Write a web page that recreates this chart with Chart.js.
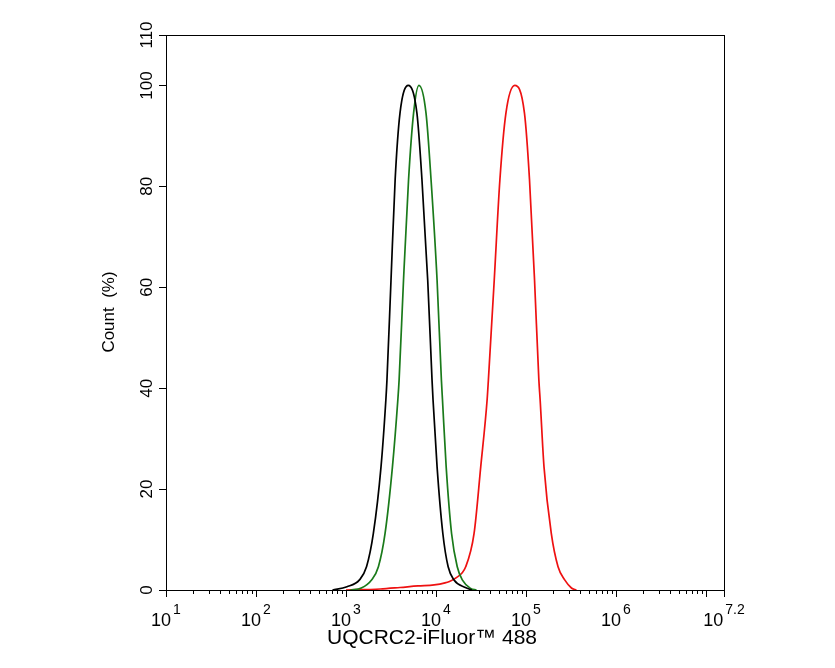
<!DOCTYPE html>
<html><head><script src="https://cdn.jsdelivr.net/npm/chart.js"></script>
<style>body{margin:0;background:#fff}#w{width:835px;height:668px}</style></head>
<body><div id="w"><canvas id="c"></canvas></div>
<script>
const blackX=[2.85,3.01,3.15,3.228,3.304,3.389,3.443,3.455,3.50,3.546,3.60,3.692,3.788,3.844,3.908,3.956,3.967,4.012,4.076,4.135,4.2,4.326,4.4];
const blackY=[0,0.65,2.0,4.6,11.2,24.4,37.7,41.6,61.4,81.3,94.5,100,94.5,81.3,61.4,41.6,37.7,24.4,11.2,4.6,2.0,0.5,0];
const greenX=[3.05,3.17,3.284,3.36,3.434,3.516,3.576,3.59,3.639,3.695,3.751,3.81,3.889,3.945,4.012,4.06,4.072,4.113,4.173,4.236,4.292,4.385,4.45];
const greenY=[0,0.4,2.0,4.6,11.2,24.4,37.7,41.6,61.4,81.3,94.5,100,94.5,81.3,61.4,41.6,37.7,24.4,11.2,4.6,2.0,0.3,0];
const redX=[3.0,3.38,3.6,3.8,3.98,4.1,4.15,4.214,4.33,4.423,4.497,4.568,4.582,4.647,4.71,4.777,4.875,4.983,5.039,5.095,5.143,5.157,5.2,5.281,5.356,5.43,5.505,5.56];
const redY=[0,0.2,0.5,0.8,1.0,1.4,1.7,2.3,4.6,11.2,24.4,37.7,41.6,61.4,81.3,94.5,100,94.5,81.3,61.4,41.6,37.7,24.4,11.2,4.6,2.0,0.4,0];
const xTickExp=['1','2','3','4','5','6','7.2'];
const xTickPos=[1,2,3,4,5,6,7.2];
const yTicks=[0,20,40,60,80,100,110];
const pts=(xs,ys)=>xs.map((x,i)=>({x,y:ys[i]}));
const ds=(d,c)=>({data:d,borderColor:c,borderWidth:1.7,pointRadius:0,cubicInterpolationMode:'monotone',fill:false});
const FONT='"Liberation Sans", Arial, sans-serif';
const deco={id:'deco',afterDraw(ch){
 const g=ch.ctx,a=ch.chartArea,xs=ch.scales.x,ys=ch.scales.y;
 g.save();g.strokeStyle='#000';g.lineWidth=1;
 g.strokeRect(a.left+0.5,a.top+0.5,a.right-a.left,a.bottom-a.top);
 g.beginPath();
 for(let d=1;d<7.2;d++){for(let k=1;k<10;k++){const v=d+Math.log10(k);if(v>7.2)break;const px=Math.round(xs.getPixelForValue(v))+0.5;g.moveTo(px,a.bottom);g.lineTo(px,a.bottom+(k===1?7:4));}}
 {const px=Math.round(xs.getPixelForValue(7.2))+0.5;g.moveTo(px,a.bottom);g.lineTo(px,a.bottom+7);}
 yTicks.forEach(v=>{const py=Math.round(ys.getPixelForValue(v))+0.5;g.moveTo(a.left,py);g.lineTo(a.left-7,py);});
 g.stroke();
 g.fillStyle='#000';g.textBaseline='alphabetic';
 xTickPos.forEach((v,i)=>{const px=xs.getPixelForValue(v);g.font='18px '+FONT;const w1=g.measureText('10').width;g.font='14px '+FONT;const w2=g.measureText(xTickExp[i]).width;const x0=px-(w1+w2+2)/2;g.font='18px '+FONT;g.textAlign='left';g.fillText('10',x0,626);g.font='14px '+FONT;g.fillText(xTickExp[i],x0+w1+2,614);});
 g.font='17px '+FONT;g.textAlign='center';
 yTicks.forEach(v=>{const py=ys.getPixelForValue(v);g.save();g.translate(152,py);g.rotate(-Math.PI/2);g.fillText(String(v),0,0);g.restore();});
 g.save();g.translate(114,312);g.rotate(-Math.PI/2);g.fillText('Count  (%)',0,0);g.restore();
 g.font='21px '+FONT;g.fillText('UQCRC2-iFluor™ 488',432,644);
 g.restore();}};
new Chart(document.getElementById('c'),{type:'line',data:{datasets:[ds(pts(blackX,blackY),'#000'),ds(pts(greenX,greenY),'#1a7a1a'),ds(pts(redX,redY),'#ee1111')]},
options:{responsive:true,maintainAspectRatio:false,animation:false,layout:{padding:{left:166,right:111,top:35,bottom:78}},
plugins:{legend:{display:false},tooltip:{enabled:false}},
scales:{x:{type:'linear',min:1,max:7.2,display:false},y:{min:0,max:110,display:false}}},plugins:[deco]});
</script></body></html>
